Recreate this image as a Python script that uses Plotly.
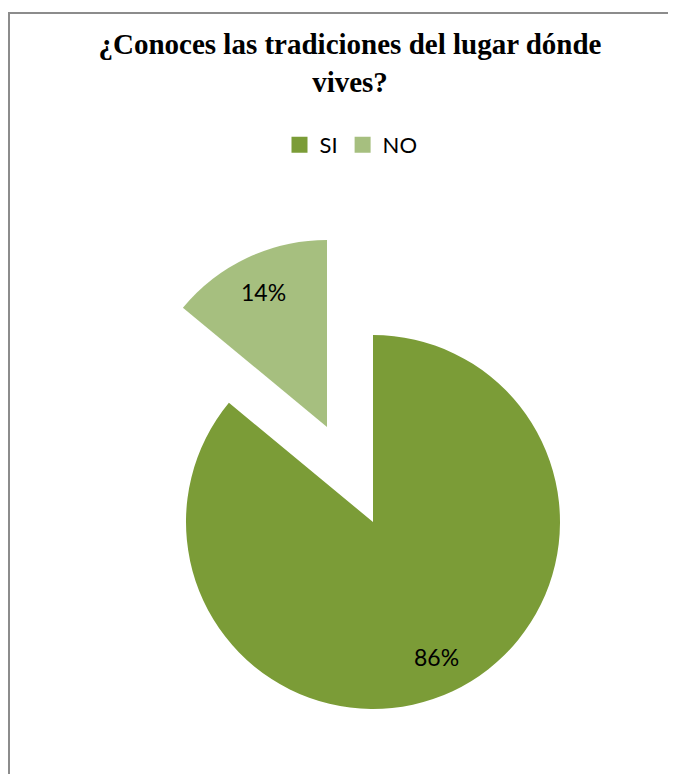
import math
import plotly.graph_objects as go

# ---- data ----
labels = ["SI", "NO"]
values = [86, 14]
title_text = "¿Conoces las tradiciones del lugar dónde<br>vives?"

# ---- style ----
W, H = 676, 774
col_si = "#7b9c37"
col_no = "#a6bf7f"
clear = "rgba(0,0,0,0)"
txt_font = "Lato, Carlito, Calibri, 'Liberation Sans', sans-serif"

# geometry of the two pie discs (pixel centres/radius -> domains)
R = 187
si_c = (365, 514)
no_c = (319, 419)
centres = [si_c, no_c]
label_r = 0.8  # fraction of radius where the percentage labels sit


def dom(c):
    return dict(
        x=[(c[0] - R) / W, (c[0] + R) / W],
        y=[(H - (c[1] + R)) / H, (H - (c[1] - R)) / H],
    )


fig = go.Figure()

# main disc: SI slice visible, NO slice left empty (exploded piece drawn separately)
fig.add_trace(go.Pie(
    labels=labels, values=values, sort=False, direction="clockwise", rotation=0,
    marker=dict(colors=[col_si, clear], line=dict(width=0)),
    textinfo="none", domain=dom(si_c), showlegend=False, hoverinfo="label+percent",
))

# exploded NO slice
fig.add_trace(go.Pie(
    labels=labels, values=values, sort=False, direction="clockwise", rotation=0,
    marker=dict(colors=[clear, col_no], line=dict(width=0)),
    textinfo="none", domain=dom(no_c), showlegend=False, hoverinfo="label+percent",
))

# percentage labels placed at each slice's mid-angle
total = sum(values)
cum = 0
annotations = []
for v, c in zip(values, centres):
    mid = (cum + v / 2) / total * 2 * math.pi
    cum += v
    px = c[0] + label_r * R * math.sin(mid)
    py = c[1] - label_r * R * math.cos(mid)
    annotations.append(dict(
        x=px / W, y=1 - py / H, xref="paper", yref="paper",
        text=f"{round(100 * v / total)}%", showarrow=False,
        font=dict(family=txt_font, size=23, color="black"),
        xanchor="center", yanchor="middle",
    ))

# legend entries
for lab, col in zip(labels, [col_si, col_no]):
    fig.add_trace(go.Scatter(
        x=[None], y=[None], mode="markers", name=lab,
        marker=dict(symbol="square", size=16, color=col),
    ))

fig.update_layout(
    width=W, height=H,
    margin=dict(l=0, r=0, t=0, b=0),
    paper_bgcolor="white", plot_bgcolor="white",
    xaxis=dict(visible=False), yaxis=dict(visible=False),
    title=dict(
        text="<b>" + title_text + "</b>",
        font=dict(family="'Liberation Serif', 'Times New Roman', serif", size=29, color="black"),
        x=342 / W, xanchor="center", xref="container",
        y=1 - 46 / H, yanchor="top", yref="container",
    ),
    legend=dict(
        orientation="h", x=343 / W, xanchor="center", y=1 - 137 / H, yanchor="middle",
        font=dict(family=txt_font, size=22, color="black"),
        itemwidth=30, bgcolor="rgba(0,0,0,0)",
    ),
    annotations=annotations,
    shapes=[dict(
        type="rect", xref="paper", yref="paper",
        x0=1 / W, x1=1.05, y0=-0.05, y1=1 - 5 / H,
        line=dict(color="#8c8c8c", width=2), layer="below",
    )],
)

fig.write_html("out.html")
